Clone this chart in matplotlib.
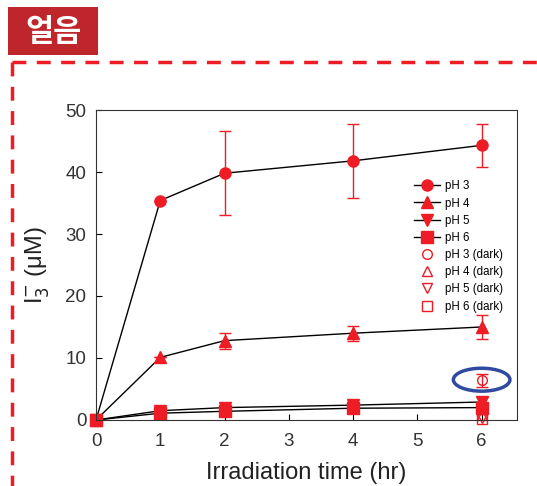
import matplotlib.pyplot as plt
from matplotlib.patches import Ellipse, Rectangle
from matplotlib.lines import Line2D

plt.rcParams['font.family'] = ['Liberation Sans', 'DejaVu Sans']

time = [0, 1, 2, 4, 6]
ph3 = [0, 35.4, 39.8, 41.8, 44.3]
ph3_err = [0, 0, 6.8, 6.0, 3.5]
ph4 = [0, 10.1, 12.8, 14.0, 15.0]
ph4_err = [0, 0, 1.3, 1.2, 2.0]
ph5 = [0, 1.5, 2.0, 2.4, 2.9]
ph5_err = [0, 0.3, 0.5, 0.5, 0.8]
ph6 = [0, 1.1, 1.4, 1.9, 2.0]
ph6_err = [0, 0.3, 0.5, 0.4, 0.8]

dark_time = [6]
dark_ph3 = [6.4]
dark_ph3_err = [1.1]
dark_ph4 = [0.8]
dark_ph5 = [0.4]
dark_ph6 = [0.1]

red = '#ee1c25'

fig = plt.figure(figsize=(5.37, 4.86), dpi=100)

# title tag and dashed frame
fig.patches.append(Rectangle((8 / 537, 1 - 55 / 486), 90 / 537, 48 / 486, transform=fig.transFigure,
                             facecolor='#bf262c', edgecolor='none'))
fig.text(53 / 537, 1 - 32 / 486, '얼음', color='white', fontsize=22, fontweight='bold',
         ha='center', va='center', family=['Noto Sans CJK KR'])
fig.lines.append(Line2D([12 / 537, 1.0], [1 - 62 / 486, 1 - 62 / 486], transform=fig.transFigure,
                        color=red, linewidth=2.5, linestyle=(0, (4, 3))))
fig.lines.append(Line2D([12 / 537, 12 / 537], [1 - 62 / 486, 0], transform=fig.transFigure,
                        color=red, linewidth=2.5, linestyle=(0, (4, 3))))

ax = fig.add_axes([96 / 537, 1 - 420 / 486, 421 / 537, 310 / 486])

series = [(ph3, ph3_err, 'o', 'pH 3'), (ph4, ph4_err, '^', 'pH 4'),
          (ph5, ph5_err, 'v', 'pH 5'), (ph6, ph6_err, 's', 'pH 6')]
for vals, err, mk, lab in series:
    ax.errorbar(time, vals, yerr=err, fmt='none', ecolor=red, elinewidth=1, capsize=4, clip_on=False)
    ax.plot(time, vals, color='black', linewidth=1, marker=mk, markersize=8,
            markerfacecolor=red, markeredgecolor=red, label=lab, clip_on=False)

dark = [(dark_ph3, 'o', 'pH 3 (dark)'), (dark_ph4, '^', 'pH 4 (dark)'),
        (dark_ph5, 'v', 'pH 5 (dark)'), (dark_ph6, 's', 'pH 6 (dark)')]
ax.errorbar(dark_time, dark_ph3, yerr=dark_ph3_err, fmt='none', ecolor=red, elinewidth=1, capsize=4)
for vals, mk, lab in dark:
    ax.plot(dark_time, vals, linestyle='none', marker=mk, markersize=7,
            markerfacecolor='none', markeredgecolor=red, label=lab, clip_on=False)

ax.add_patch(Ellipse((6, 6.5), 0.88, 3.7, fill=False, edgecolor='#2f4a9e', linewidth=2.5))

ax.set_xlim(0, 6.55)
ax.set_ylim(0, 50)
ax.set_xticks([0, 1, 2, 3, 4, 5, 6])
ax.set_yticks([0, 10, 20, 30, 40, 50])
ax.tick_params(direction='in', labelsize=13.5, length=4, colors='black')
ax.tick_params(axis='x', pad=9)
ax.tick_params(axis='y', pad=7)
for lbl in ax.get_xticklabels() + ax.get_yticklabels():
    lbl.set_color('#333333')
for s in ax.spines.values():
    s.set_color('#333333')
ax.set_xlabel('Irradiation time (hr)', fontsize=17, color='#222222', labelpad=9)
ax.set_ylabel(r'I$_3^{-}$ (μM)', fontsize=17, color='#222222', labelpad=10)

ax.legend(loc='upper left', bbox_to_anchor=(0.745, 0.788), frameon=False, fontsize=8.3,
          handlelength=2.2, labelspacing=0.45, borderaxespad=0, handletextpad=0.5)

fig.savefig('out.png', dpi=100)
